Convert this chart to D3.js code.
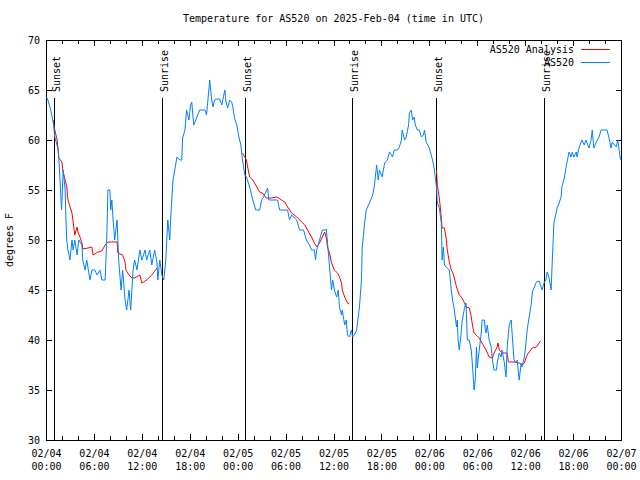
<!DOCTYPE html>
<html><head><meta charset="utf-8">
<script src="https://cdn.jsdelivr.net/npm/d3@7"></script>
<style>
body{margin:0;background:#fff;}
svg{display:block;font-family:"DejaVu Sans Mono",monospace;font-size:10px;}
</style></head>
<body><svg id="c" width="640" height="480"></svg>
<script>
// hours since 2025-02-04 00:00 UTC
const blueHours=[0,0.15,0.5,0.9,1.1,1.55,1.75,1.95,2.05,2.15,2.4,2.5,2.6,2.75,3.0,3.25,3.4,3.6,3.9,4.1,4.5,4.6,4.9,5.1,5.5,5.75,6.1,6.4,6.75,7.0,7.4,7.6,7.75,8.0,8.1,8.25,8.4,8.6,8.9,9.1,9.4,9.6,9.9,10.1,10.4,10.6,10.9,11.1,11.4,11.75,12.0,12.4,12.6,13.0,13.25,13.6,13.9,14.0,14.25,14.5,14.75,15.0,15.25,15.5,15.6,15.9,16.4,16.75,17.0,17.1,17.4,17.6,17.9,18.1,18.25,18.5,18.75,19.0,19.25,19.9,20.1,20.5,20.75,20.9,21.1,21.4,21.75,22.0,22.4,22.5,22.75,23.0,23.25,23.4,23.6,23.9,24.1,24.4,24.6,24.9,25.1,25.5,25.9,26.25,26.75,27.0,27.25,27.75,27.9,28.5,29.0,29.25,30.25,30.5,30.75,31.4,31.75,32.25,32.6,33.0,33.25,33.6,33.75,33.9,34.25,34.6,35.0,35.1,35.25,35.5,35.75,35.9,36.1,36.4,36.6,36.75,37.0,37.1,37.4,37.6,37.75,38.0,38.25,38.4,38.6,38.9,39.0,39.25,39.5,39.6,39.9,40.1,40.5,40.9,41.1,41.4,41.6,41.75,42.1,42.4,42.75,43.0,43.4,43.6,44.0,44.25,44.5,44.6,44.9,45.1,45.4,45.5,45.75,45.9,46.1,46.25,46.5,46.75,47.0,47.25,47.4,47.6,48.0,48.4,48.6,48.9,49.0,49.25,49.5,49.6,49.75,49.9,50.1,50.5,50.75,50.9,51.1,51.4,51.5,51.6,51.75,51.9,52.1,52.4,52.6,52.75,53.0,53.25,53.4,53.6,53.75,53.9,54.0,54.25,54.5,54.6,54.9,55.0,55.1,55.25,55.5,55.75,55.9,56.1,56.4,56.5,56.75,57.0,57.1,57.4,57.6,57.75,58.0,58.25,58.4,58.6,58.9,59.0,59.25,59.5,59.6,59.9,60.1,60.25,60.5,60.75,60.9,61.1,61.4,61.75,62.0,62.1,62.4,62.6,62.75,63.0,63.25,63.4,63.6,63.9,64.0,64.25,64.5,64.6,64.9,65.1,65.25,65.5,65.75,65.9,66.1,66.4,66.5,66.75,67.1,67.4,67.6,68.0,68.25,68.4,68.6,68.9,69.25,69.5,70.25,70.5,70.75,70.9,71.4,71.6,71.9,72.0];
const blueTemps=[64.2,64.2,63.3,61.8,60.3,59,56,53,55,57,55,52,50,49,48,50,49,50,48.5,50,49.5,48,47,48,46,47,47,46.5,47,46,46,50,55,55,53,54,52,50,52,48,45,47,44,43,45,43,47,48,47,49,48,49,48,49,47.5,49,47.7,46,48,46.5,46,48,52,50,52,56,58.3,58,58,60.2,61,63,62,63.5,63.8,61.5,62,62.5,63,63,62.5,66,64,63.3,64,64.1,64.1,63.5,65,64,63.2,64,63.8,63.3,62.2,61.5,60.5,59.5,58,56.5,56.3,55.3,54,53,53,54,54.3,55.2,54,54,54,53,53,52,52.5,52,51,51,50,49.5,49,49,48,49,50,51,51,51.1,49.7,47.3,45,46,45,44.3,45,43.3,42.5,43,41.5,42,40.5,40.3,41,40.3,40.5,41,41.7,43.3,46,49.3,51.7,53,53.7,54.5,55.3,57.5,56,57,56.3,57.7,58,58.8,58.3,59,59,59.3,60,61,60,60.3,61.5,62.7,63,62,62.3,61.5,61,61,60.3,60.5,61,59.8,59.2,58,57.2,55.3,53.7,53.2,51.7,48,49.3,47.5,47.3,47,45,44,43.2,41.3,42,40,39,40,41.8,43.2,43.7,40,40,39,37.5,35,36,39.3,37.2,39,40.7,42,42,41,40.7,41.5,40,39.3,38,37,37,37.7,38.7,38.3,39,37.7,36.3,39.3,41.5,42,40.3,38,37.7,38,36,37.7,37.3,38.3,39.7,41,42.3,43.5,44.8,45.2,45.8,45.9,45.3,45,45.8,46,46.8,46.2,45,48,51.7,52.8,53.2,53.7,54.3,55.3,56.2,57.2,57.8,58.8,58.3,58.8,58.3,58.8,58.3,59.2,60,59.5,60,59.2,60,61,59.2,59.8,60.3,61,61,60.2,59.2,59.8,59.3,60,58.2,58];
// analysis series, null = gap between runs
const redHours=[0.9,1.1,1.4,1.6,2.0,2.1,2.6,2.75,3.25,3.4,3.6,3.9,4.0,4.25,4.5,4.6,5.25,5.75,5.9,6.5,7.0,7.4,7.75,8.25,8.9,9.0,9.6,9.9,10.0,10.4,10.75,11.1,11.75,12.0,12.6,13.25,13.9,null,
24.6,25.1,25.25,25.5,25.9,26.4,26.75,27.1,27.6,28.25,28.9,29.5,29.9,30.25,30.75,31.4,32.0,32.4,32.75,33.25,33.6,33.9,34.25,34.6,34.9,35.1,35.25,35.5,35.75,36.1,36.5,36.75,37.0,37.1,37.4,37.75,38.0,null,
48.9,49.0,49.25,49.5,49.6,49.9,50.1,50.25,50.5,50.75,50.9,51.1,51.4,51.75,52.1,52.4,52.6,53.0,53.25,53.4,53.6,54.0,54.25,54.6,55.1,55.5,55.9,56.1,56.5,56.6,56.75,57.1,57.75,57.9,58.6,59.25,59.6,59.9,60.1,60.25,60.5,60.9,61.4,61.75,61.9];
const redTemps=[62,61,60,58.2,57.8,57,55.3,54,52.7,51.8,50.5,51.3,50.8,50.3,49.7,49.1,49.2,49.3,48.5,48.8,48.9,49.5,49.8,49.8,49.8,48.7,48.5,47.8,47,46.5,46.2,46.2,46.5,45.7,46,46.5,47.2,null,
58.7,58,57.3,56.3,56,55.3,54.8,54.7,54.2,54.2,54.3,54,53.8,53.3,52.7,52.3,51.8,51.5,51,50.3,49.7,49.3,49.7,50.3,50.8,50.2,49.3,48.7,47.7,47,46.7,46.3,45.7,45,44.3,43.7,43.6,null,
57,55.5,54.2,52.2,51.2,51.2,50.2,49,47.8,47,46.8,46.3,45.3,44.5,44.2,43.7,43.3,43.2,42.3,41.5,40.7,40.4,40.2,39.7,39,38.3,38.2,38.7,39.3,39.7,39,38.7,38.7,37.8,37.8,37.7,37.5,37.7,38.2,38.5,38.8,39.2,39.3,39.7,39.9];
const sunHours=[1.0,14.5,24.875,38.375,48.875,62.375];
const sunLabels=["Sunset","Sunrise","Sunset","Sunrise","Sunset","Sunrise"];
const yTicks=[30,35,40,45,50,55,60,65,70];
const titleText="Temperature for AS520 on 2025-Feb-04 (time in UTC)";
const seriesNames=["AS520 Analysis","AS520"];
const seriesColors=["#ff0000","#0080ff"];

const base=Date.UTC(2025,1,4);
const toDate=h=>new Date(base+h*3600e3);
const L=46,R=621,T=40,B=440;
const svg=d3.select("#c");
const x=d3.scaleUtc().domain([toDate(0),toDate(72)]).range([L,R]);
const y=d3.scaleLinear().domain([30,70]).range([B,T]);

const minorT=d3.range(0,73,2).map(toDate);
const majorT=d3.range(0,73,6).map(toDate);
const fmt=d3.utcFormat("%m/%d|%H:%M");

// ticks
svg.append("g").attr("transform",`translate(0,${B})`)
  .call(d3.axisBottom(x).tickValues(minorT).tickSizeInner(-4).tickSizeOuter(0).tickFormat(""));
svg.append("g").attr("transform",`translate(0,${T})`)
  .call(d3.axisTop(x).tickValues(minorT).tickSizeInner(-4).tickSizeOuter(0).tickFormat(""));
const xb=svg.append("g").attr("class","xmaj").attr("transform",`translate(0,${B})`)
  .call(d3.axisBottom(x).tickValues(majorT).tickSizeInner(-6).tickSizeOuter(0).tickPadding(0).tickFormat(fmt));
svg.append("g").attr("transform",`translate(0,${T})`)
  .call(d3.axisTop(x).tickValues(majorT).tickSizeInner(-6).tickSizeOuter(0).tickFormat(""));
xb.selectAll("text").each(function(){
  const parts=d3.select(this).text().split("|");
  const t=d3.select(this).text(null).attr("y",null).attr("dy",null);
  t.append("tspan").attr("x",0).attr("y",17).text(parts[0]);
  t.append("tspan").attr("x",0).attr("y",30).text(parts[1]);
});
svg.append("g").attr("transform",`translate(${L},0)`)
  .call(d3.axisLeft(y).tickValues(yTicks).tickSizeInner(-6).tickSizeOuter(0).tickPadding(6));
svg.append("g").attr("transform",`translate(${R},0)`)
  .call(d3.axisRight(y).tickValues(yTicks).tickSizeInner(-5).tickSizeOuter(0).tickFormat(""));
svg.selectAll(".domain").remove();
svg.selectAll(".tick line").attr("stroke","#000").attr("shape-rendering","crispEdges");
svg.selectAll(".tick text").attr("fill","#000").attr("font-family","DejaVu Sans Mono").attr("font-size",10);

// border
svg.append("rect").attr("x",L+0.5).attr("y",T+0.5).attr("width",R-L).attr("height",B-T)
  .attr("fill","none").attr("stroke","#000").attr("shape-rendering","crispEdges");

// sun lines
const sun=svg.append("g");
sunHours.forEach((h,i)=>{
  const sx=Math.round(x(toDate(h)))+0.5;
  sun.append("line").attr("x1",sx).attr("x2",sx).attr("y1",98).attr("y2",B)
    .attr("stroke","#000").attr("shape-rendering","crispEdges");
  sun.append("text").attr("transform",`translate(${sx+5},92) rotate(-90)`)
    .attr("text-anchor","start").text(sunLabels[i]);
});

// series
const blueData=blueHours.map((h,i)=>({d:toDate(h),t:blueTemps[i]}));
const redData=redHours.map((h,i)=>({d:h==null?null:toDate(h),t:redTemps[i]}));
const line=d3.line().defined(p=>p.t!=null).x(p=>x(p.d)).y(p=>y(p.t));
svg.append("path").datum(redData).attr("d",line).attr("fill","none")
  .attr("stroke",seriesColors[0]).attr("stroke-width",1);
svg.append("path").datum(blueData).attr("d",line).attr("fill","none")
  .attr("stroke",seriesColors[1]).attr("stroke-width",1);

// legend
seriesNames.forEach((n,i)=>{
  const ly=49.5+i*13;
  svg.append("text").attr("x",574).attr("y",ly+3.5).attr("text-anchor","end").text(n);
  svg.append("line").attr("x1",581).attr("x2",610).attr("y1",ly).attr("y2",ly)
    .attr("stroke",seriesColors[i]).attr("stroke-width",1).attr("shape-rendering","crispEdges");
});

// title & y label
svg.append("text").attr("x",(L+R)/2).attr("y",22).attr("text-anchor","middle").text(titleText);
svg.append("text").attr("transform",`translate(13,${(T+B)/2}) rotate(-90)`)
  .attr("text-anchor","middle").text("degrees F");
</script></body></html>
